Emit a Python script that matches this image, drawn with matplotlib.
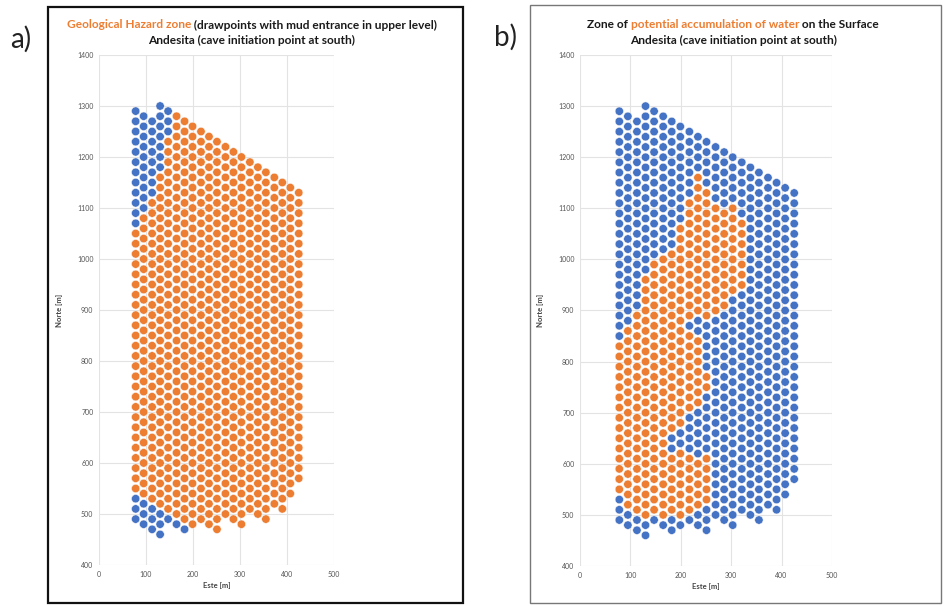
import numpy as np
import matplotlib
matplotlib.use("Agg")
import matplotlib.pyplot as plt
from matplotlib.patches import Rectangle

# ---------------- data ----------------
# drawpoint columns (Este, m) with their northern / southern limits (Norte, m)
col_x = [78, 95, 113, 130, 147, 165, 182, 199, 217, 234, 251,
         269, 286, 303, 321, 338, 355, 373, 390, 407, 425]
col_top = [1290, 1280, 1270, 1300, 1290, 1280, 1270, 1260, 1250, 1240, 1230,
           1220, 1210, 1200, 1190, 1180, 1170, 1160, 1150, 1140, 1130]
col_bottom = [490, 480, 470, 460, 490, 480, 470, 480, 490, 480, 470,
              500, 490, 480, 510, 500, 490, 520, 510, 540, 570]
row_step = 20

# a) geological hazard zone: orange Norte ranges per column
orange_a = [
    [(550, 1050)], [(540, 1080)], [(530, 1110)], [(520, 1160)],
    [(510, 1230)], [(500, 1280)], [(490, 1270)], [(480, 1260)],
    [(490, 1250)], [(480, 1240)], [(470, 1230)], [(500, 1220)],
    [(490, 1210)], [(480, 1200)], [(510, 1190)], [(500, 1180)],
    [(490, 1170)], [(520, 1160)], [(510, 1150)], [(540, 1140)],
    [(570, 1130)],
]

# b) potential accumulation of water: orange Norte ranges per column
orange_b = [
    [(550, 830)], [(520, 860)], [(510, 890)], [(500, 960)],
    [(510, 990)], [(500, 1000)],
    [(510, 610), (670, 1010)],
    [(500, 620), (680, 1060)],
    [(510, 610), (710, 850), (890, 1110)],
    [(520, 600), (720, 840), (900, 1160)],
    [(530, 610), (750, 770), (890, 1130)],
    [(900, 1100)], [(910, 1090)], [(940, 1100)], [(950, 1070)],
    [], [], [], [], [], [],
]

title_a1 = [("Geological Hazard zone", "orange"),
            (" (drawpoints with mud entrance in upper level)", "black")]
title_b1 = [("Zone of ", "black"), ("potential accumulation of water", "orange"),
            (" on the Surface", "black")]
title_2 = "Andesita (cave initiation point at south)"

BLUE = "#4472C4"
ORANGE = "#ED7D31"
TXT = "#1a1a1a"
colors = {"orange": ORANGE, "black": TXT}

plt.rcParams["font.family"] = ["Lato", "DejaVu Sans"]

W, H = 944, 606
fig = plt.figure(figsize=(W / 100, H / 100), dpi=100)


def points(orange_ranges):
    xs, ys, cs = [], [], []
    for x, top, bot, rng in zip(col_x, col_top, col_bottom, orange_ranges):
        for y in range(bot, top + 1, row_step):
            xs.append(x)
            ys.append(y)
            hit = any(lo <= y <= hi for lo, hi in rng)
            cs.append(ORANGE if hit else BLUE)
    return xs, ys, cs


def panel(rect, orange_ranges):
    ax = fig.add_axes(rect)
    xs, ys, cs = points(orange_ranges)
    ax.scatter(xs, ys, s=36, c=cs, edgecolors="#f6f6f6", linewidths=0.35, zorder=3)
    ax.set_xlim(0, 500)
    ax.set_ylim(400, 1400)
    ax.set_xticks(range(0, 501, 100))
    ax.set_yticks(range(400, 1401, 100))
    ax.grid(True, color="#e3e3e3", lw=0.8)
    ax.set_axisbelow(True)
    for s in ax.spines.values():
        s.set_visible(False)
    ax.tick_params(length=0, labelsize=5, labelcolor="#555555", pad=4)
    ax.set_xlabel("Este [m]", fontsize=5.5, fontweight="bold", color="#444444", labelpad=3)
    ax.set_ylabel("Norte [m]", fontsize=5.5, fontweight="bold", color="#444444", labelpad=10)
    return ax


panel([99 / W, 1 - 565 / H, 235 / W, 510 / H], orange_a)
panel([580 / W, 1 - 566 / H, 252 / W, 511 / H], orange_b)

# frames round the two panels
fig.add_artist(Rectangle((48 / W, 1 - 603 / H), 415 / W, 596 / H, transform=fig.transFigure,
                         fill=False, ec="#111111", lw=1.6))
fig.add_artist(Rectangle((530 / W, 1 - 603 / H), 411 / W, 598 / H, transform=fig.transFigure,
                         fill=False, ec="#777777", lw=1.0))

fig.text(10 / W, 1 - 39 / H, "a)", fontsize=20, color="#222222", va="center", ha="left")
fig.text(494 / W, 1 - 37 / H, "b)", fontsize=20, color="#222222", va="center", ha="left")


def title_line(xc, y, parts, size=8.6):
    texts = [fig.text(0, 1 - y / H, s, color=colors[c], fontsize=size, fontweight="bold",
                      ha="left", va="center") for s, c in parts]
    fig.canvas.draw()
    r = fig.canvas.get_renderer()
    widths = [t.get_window_extent(r).width for t in texts]
    x = xc - sum(widths) / 2
    for t, w in zip(texts, widths):
        t.set_x(x / W)
        x += w


title_line(252, 25, title_a1)
title_line(252, 40, [(title_2, "black")])
title_line(733, 25, title_b1)
title_line(734, 40, [(title_2, "black")])

fig.savefig("out.png", dpi=100)
